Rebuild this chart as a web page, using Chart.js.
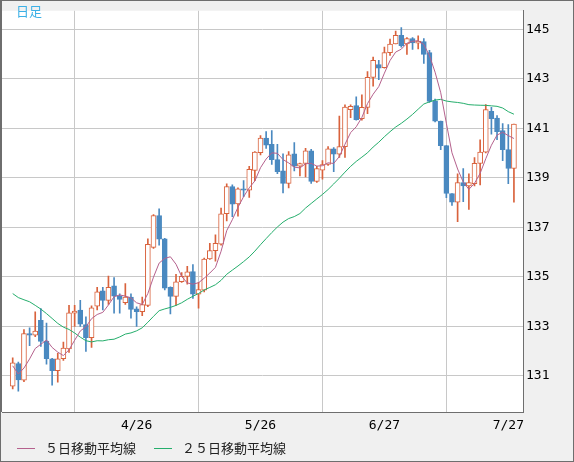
<!DOCTYPE html>
<html lang="ja">
<head>
<meta charset="utf-8">
<title>日足</title>
<script src="https://cdn.jsdelivr.net/npm/chart.js@4.4.1/dist/chart.umd.min.js"></script>
<style>
  body { margin: 0; background: #f0f0f0; }
  #wrap { position: relative; width: 574px; height: 462px; }
  #title { position: absolute; left: 16px; top: 4px; font: 13px/13px "Noto Sans CJK JP"; color: #3cb0e6; }
  .legend { position: absolute; top: 441px; font: 13px/13px "Noto Sans CJK JP"; color: #222; white-space: nowrap; }
  .legend i { display: inline-block; width: 18px; border-top: 1px solid; vertical-align: middle; margin-right: 10px; position: relative; top: -1px; }
</style>
</head>
<body>
<div id="wrap">
  <canvas id="chart" width="574" height="462"></canvas>
  <div id="title">日足</div>
  <div class="legend" style="left:17px"><i style="border-color:#b5618d"></i>５日移動平均線</div>
  <div class="legend" style="left:154px"><i style="border-color:#25ae6c"></i>２５日移動平均線</div>
</div>
<script>
// daily candles, 3/27 - 7/28
const dates = [
  '3/27','3/28','3/29','3/30','3/31',
  '4/3','4/4','4/5','4/6','4/7',
  '4/10','4/11','4/12','4/13','4/14',
  '4/17','4/18','4/19','4/20','4/21',
  '4/24','4/25','4/26','4/27','4/28',
  '5/1','5/2','5/3','5/4','5/5',
  '5/8','5/9','5/10','5/11','5/12',
  '5/15','5/16','5/17','5/18','5/19',
  '5/22','5/23','5/24','5/25','5/26',
  '5/29','5/30','5/31','6/1','6/2',
  '6/5','6/6','6/7','6/8','6/9',
  '6/12','6/13','6/14','6/15','6/16',
  '6/19','6/20','6/21','6/22','6/23',
  '6/26','6/27','6/28','6/29','6/30',
  '7/3','7/4','7/5','7/6','7/7',
  '7/10','7/11','7/12','7/13','7/14',
  '7/17','7/18','7/19','7/20','7/21',
  '7/24','7/25','7/26','7/27','7/28'
];

const opens = [
  130.58,131.50,130.83,132.71,132.64, 133.24,132.41,131.69,131.21,131.69,
  132.09,133.53,133.66,133.07,132.54, 133.82,134.44,134.05,134.64,134.23,
  133.96,134.18,133.71,133.59,133.85, 136.19,137.48,136.54,134.58,134.21,
  134.81,135.02,135.21,134.30,134.46, 135.72,136.06,136.32,137.55,138.65,
  137.95,138.56,138.50,139.30,140.02, 140.61,140.35,139.74,139.28,138.78,
  139.97,139.47,139.58,140.09,138.86, 139.31,139.54,140.17,139.96,140.26,
  141.76,141.92,141.39,141.85,143.06, 143.58,143.45,144.06,144.41,144.76,
  144.41,144.63,144.44,144.51,144.06, 142.11,141.29,140.30,138.37,138.02,
  138.81,138.67,138.77,139.58,140.04, 141.69,141.42,140.91,140.14,139.38
];
const highs = [
  131.73,131.56,132.87,132.94,133.59, 133.72,133.13,131.71,131.91,132.37,
  133.85,133.85,134.05,133.39,133.83, 134.58,134.58,135.03,134.97,134.31,
  134.73,134.31,133.79,134.18,136.54, 137.52,137.75,136.56,134.60,135.10,
  135.17,135.43,135.50,134.78,135.76, 136.35,136.70,137.78,138.76,138.72,
  138.60,138.89,139.47,140.06,140.71, 140.87,140.91,140.35,139.97,140.06,
  140.43,139.60,140.19,140.15,139.47, 139.70,140.26,140.22,141.50,141.95,
  141.95,142.27,142.35,143.29,143.88, 143.75,144.28,144.61,144.93,145.07,
  144.67,144.67,144.74,144.63,144.15, 142.18,141.29,140.30,138.37,139.16,
  139.38,139.16,139.82,140.54,141.96, 141.85,141.52,141.19,141.15,141.17
];
const lows = [
  130.47,130.38,130.77,132.22,132.58, 132.19,131.47,130.62,130.75,131.62,
  131.95,133.00,133.00,131.99,132.15, 133.66,133.66,133.89,133.53,133.53,
  133.89,133.33,133.00,133.43,133.80, 136.15,136.28,134.47,133.50,133.85,
  134.78,134.70,134.13,133.74,134.39, 135.70,135.63,136.28,137.26,137.43,
  137.45,138.24,138.21,138.89,139.93, 140.19,139.54,139.17,138.39,138.59,
  139.28,139.08,139.04,138.78,138.82, 138.95,139.50,139.25,139.83,139.83,
  141.43,141.33,141.33,141.59,142.70, 142.97,143.43,143.95,144.41,144.28,
  143.99,144.19,144.21,143.62,142.05, 141.26,140.14,138.20,137.89,137.23,
  138.04,137.72,138.67,138.71,140.01, 140.77,140.54,139.69,138.77,138.02
];
const closes = [
  131.53,130.84,132.71,132.64,132.81, 132.39,131.69,131.21,131.69,132.12,
  133.55,133.62,133.09,132.54,133.75, 134.40,134.05,134.58,134.22,134.09,
  134.18,133.68,133.59,133.88,136.31, 137.48,136.52,134.54,134.21,134.80,
  135.02,135.20,134.30,134.49,135.72, 136.06,136.35,137.55,138.65,137.94,
  138.56,138.50,139.34,140.04,140.61, 140.32,139.74,139.25,138.78,139.93,
  139.47,139.58,140.09,138.86,139.38, 139.54,140.17,139.96,140.26,141.86,
  141.89,141.35,141.85,143.06,143.75, 143.43,144.06,144.41,144.76,144.34,
  144.63,144.45,144.53,143.99,142.09, 141.29,140.30,138.37,138.02,138.81,
  138.67,138.81,139.59,140.04,141.76, 141.39,140.87,140.14,139.38,141.17
];
// closes of the 24 sessions before 3/27 (needed for the averages)
const priorCloses = [
  134.9,134.9,134.7,136.4,136.2,136.2,136.1,136.7,135.9,135.9,137.2,137.3,
  136.1,135.0,133.2,134.2,133.4,133.7,131.8,131.3,132.5,131.5,130.8,130.7
];

const yTicks = [131, 133, 135, 137, 139, 141, 143, 145];
const gridDates = ['3/27', '4/26', '5/26', '6/27', '7/27'];

const upColor = '#d9623c';
const downColor = '#4a89c0';

const allCloses = priorCloses.concat(closes);
const movingAvg = (n) => closes.map((c, i) => {
  const k = i + priorCloses.length;
  const win = allCloses.slice(k - n + 1, k + 1);
  return win.reduce((a, b) => a + b, 0) / n;
});
const ma5 = movingAvg(5);
const ma25 = movingAvg(25);

const isUp = (i) => closes[i] >= opens[i];

const frame = {
  id: 'frame',
  beforeDraw(chart) {
    const { ctx, chartArea: a, width, height } = chart;
    ctx.save();
    ctx.fillStyle = '#f0f0f0';
    ctx.fillRect(0, 0, width, height);
    ctx.fillStyle = '#ffffff';
    ctx.fillRect(a.left, a.top, a.right - a.left, a.bottom - a.top);
    ctx.strokeStyle = '#6e6e6e';
    ctx.lineWidth = 1;
    ctx.strokeRect(0.5, 0.5, width - 1, height - 1);
    ctx.beginPath();
    ctx.moveTo(1.5, 0);
    ctx.lineTo(1.5, a.bottom);
    ctx.stroke();
    ctx.restore();
  }
};

Chart.defaults.font.family = 'DejaVu Sans Mono';
Chart.defaults.font.size = 13;
Chart.defaults.color = '#000';

new Chart(document.getElementById('chart'), {
  type: 'bar',
  data: {
    datasets: [
      {
        type: 'line',
        label: '5日移動平均線',
        data: ma5.map((v, i) => ({ x: i, y: v })),
        borderColor: '#b5618d',
        borderWidth: 1,
        pointRadius: 0,
        tension: 0,
        order: 0
      },
      {
        type: 'line',
        label: '25日移動平均線',
        data: ma25.map((v, i) => ({ x: i, y: v })),
        borderColor: '#25ae6c',
        borderWidth: 1,
        pointRadius: 0,
        tension: 0,
        order: 1
      },
      {
        label: 'body',
        data: closes.map((c, i) => ({ x: i, y: [opens[i], c] })),
        backgroundColor: (ctx) => isUp(ctx.dataIndex) ? '#ffffff' : downColor,
        borderColor: (ctx) => isUp(ctx.dataIndex) ? upColor : downColor,
        borderWidth: 1,
        borderSkipped: false,
        barThickness: 5,
        grouped: false,
        order: 2
      },
      {
        label: 'wick',
        data: lows.map((l, i) => ({ x: i, y: [l, highs[i]] })),
        backgroundColor: (ctx) => isUp(ctx.dataIndex) ? upColor : downColor,
        barThickness: 1,
        grouped: false,
        order: 3
      }
    ]
  },
  options: {
    responsive: false,
    animation: false,
    layout: { padding: { left: 2, top: 1, right: 0, bottom: 0 } },
    plugins: {
      legend: { display: false },
      tooltip: { enabled: false }
    },
    scales: {
      x: {
        type: 'linear',
        min: -1.9,
        max: 90.61,
        offset: false,
        afterBuildTicks: (s) => { s.ticks = gridDates.map(d => ({ value: dates.indexOf(d) })); },
        afterFit: (s) => { s.height = 50; },
        grid: { color: '#c8c8c8', drawTicks: false },
        border: { display: true, color: '#6e6e6e' },
        ticks: {
          padding: 6,
          maxRotation: 0,
          autoSkip: false,
          callback: (v) => v === 0 ? '' : dates[v]
        }
      },
      y: {
        position: 'right',
        min: 129.54,
        max: 145.75,
        afterBuildTicks: (s) => { s.ticks = yTicks.map(v => ({ value: v })); },
        afterFit: (s) => { s.width = 51; },
        grid: { color: '#c8c8c8', drawTicks: false },
        border: { display: true, color: '#6e6e6e' },
        ticks: { padding: 3 }
      }
    }
  },
  plugins: [frame]
});
</script>
</body>
</html>
